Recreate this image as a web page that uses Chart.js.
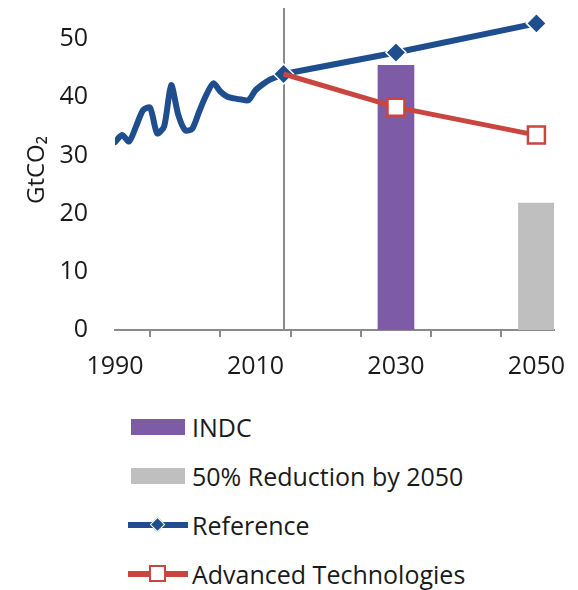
<!DOCTYPE html>
<html><head><meta charset="utf-8">
<script src="https://cdn.jsdelivr.net/npm/chart.js@4/dist/chart.umd.min.js"></script>
<style>
html,body{margin:0;padding:0;background:#fff;}
#wrap{position:relative;width:578px;height:590px;overflow:hidden;}
#c{position:absolute;left:0;top:0;}
#legend{position:absolute;left:128px;top:402px;font-family:"Open Sans",sans-serif;font-size:25px;color:#1a1a1a;}
.row{display:flex;align-items:center;height:49px;white-space:nowrap;}
.sym{width:64px;height:24px;position:relative;flex:none;}
.bar{position:absolute;left:3px;top:4px;width:54px;height:16px;}
.ln{position:absolute;left:0;top:9px;width:60px;height:6px;}
.dia{position:absolute;left:24px;top:6px;width:9px;height:9px;transform:rotate(45deg);border:1.5px solid #fff;}
.sq{position:absolute;left:21px;top:3px;width:13px;height:13px;background:#fff;border:2.5px solid;}
</style>
</head><body>
<div id="wrap">
<canvas id="c" width="578" height="395" style="width:578px;height:395px"></canvas>
<div id="legend"></div>
</div>
<script>
const histYears  = [1990,1991,1992,1993,1994,1995,1996,1997,1998,1999,2000,2001,2002,2003,2004,2005,2006,2007,2008,2009,2010,2011,2012,2013,2014];
const histValues = [32.3,33.5,32.4,35.0,37.8,38.2,33.8,35.0,42.1,37.0,34.3,34.6,37.6,40.4,42.4,41.0,40.1,39.8,39.6,39.5,41.2,42.2,43.0,43.5,44.0];
const projYears = [2014,2030,2050];
const referenceValues = [44.0,47.7,52.7];
const advancedValues  = [44.0,38.3,33.5];
const indcYears = [2030];
const indcValues = [45.5];
const reductionYears = [2050];
const reductionValues = [21.8];
const xTickYears = [1990,2000,2010,2020,2030,2040,2050];
const xLabelYears = [1990,2010,2030,2050];
const yTickValues = [0,10,20,30,40,50];
const seriesNames = ['INDC','50% Reduction by 2050','Reference','Advanced Technologies'];
const baseYear = 2014;
const yTitle = 'GtCO\u2082';

const BLUE='#1F4E8E', RED='#C9453F', PURPLE='#7D5BA6', GRAY='#BFBFBF', AXIS='#8A8A8A', TXT='#1a1a1a';
const zip=(xs,ys)=>xs.map((x,i)=>({x:x,y:ys[i]}));

const vline = {
  id:'vline',
  beforeDatasetsDraw(chart){
    const {ctx, chartArea, scales} = chart;
    const x = Math.round(scales.x.getPixelForValue(baseYear));
    ctx.save();
    ctx.strokeStyle=AXIS; ctx.lineWidth=2;
    ctx.beginPath(); ctx.moveTo(x, chartArea.top-2); ctx.lineTo(x, chartArea.bottom); ctx.stroke();
    ctx.restore();
  }
};

const chart = new Chart(document.getElementById('c'), {
  type:'line',
  data:{datasets:[
    {type:'bar', label:seriesNames[0], data:zip(indcYears,indcValues), backgroundColor:PURPLE, barThickness:36, grouped:false, order:5, legendKind:'bar'},
    {type:'bar', label:seriesNames[1], data:zip(reductionYears,reductionValues), backgroundColor:GRAY, barThickness:36, grouped:false, order:5, legendKind:'bar'},
    {label:'hist', data:zip(histYears,histValues), borderColor:BLUE, borderWidth:6, tension:0.25, pointRadius:0, borderCapStyle:'round', borderJoinStyle:'round', order:3, legendKind:null},
    {label:seriesNames[2], data:zip(projYears,referenceValues), borderColor:BLUE, borderWidth:6, tension:0, pointStyle:'rectRot', pointRadius:10, pointBackgroundColor:BLUE, pointBorderColor:'#fff', pointBorderWidth:1.5, order:2, legendKind:'diamond'},
    {label:seriesNames[3], data:zip(projYears,advancedValues), borderColor:RED, borderWidth:5, tension:0, pointStyle:'rect', pointRadius:[0,12,12], pointBackgroundColor:'#fff', pointBorderColor:RED, pointBorderWidth:2.5, order:1, legendKind:'square'}
  ]},
  options:{
    responsive:false, animation:false, devicePixelRatio:1,
    layout:{autoPadding:false, padding:{left:23,right:24,top:10,bottom:0}},
    plugins:{legend:{display:false}, tooltip:{enabled:false}},
    scales:{
      x:{type:'linear', min:1990, max:2052.5, offset:false,
        afterBuildTicks(s){ s.ticks = xTickYears.map(v=>({value:v})); },
        afterFit(s){ s.height = 65; s.paddingLeft = 0; s.paddingRight = 0; },
        border:{display:true,color:AXIS,width:2},
        grid:{display:true, drawOnChartArea:false, drawTicks:true, tickLength:7, color:AXIS, lineWidth:2},
        ticks:{autoSkip:false, maxRotation:0, padding:15, color:TXT, font:{family:'Open Sans', size:25},
          callback:(v)=> xLabelYears.includes(v) ? String(v) : ''}
      },
      y:{min:0, max:55,
        afterBuildTicks(s){ s.ticks = yTickValues.map(v=>({value:v})); },
        afterFit(s){ s.width = 92; s.paddingTop = 0; s.paddingBottom = 0; },
        border:{display:false},
        grid:{display:false, drawTicks:false},
        ticks:{padding:27, color:TXT, font:{family:'Open Sans', size:25}},
        title:{display:true, text:yTitle, color:TXT, font:{family:'Open Sans', size:24}, padding:0}
      }
    }
  },
  plugins:[vline]
});

// HTML legend built from the chart's datasets
const lg = document.getElementById('legend');
chart.data.datasets.filter(d=>d.legendKind).forEach(d=>{
  const row=document.createElement('div'); row.className='row';
  const sym=document.createElement('div'); sym.className='sym';
  if(d.legendKind==='bar'){
    const b=document.createElement('div'); b.className='bar'; b.style.background=d.backgroundColor; sym.appendChild(b);
  } else {
    const l=document.createElement('div'); l.className='ln'; l.style.background=d.borderColor; sym.appendChild(l);
    if(d.legendKind==='diamond'){ const m=document.createElement('div'); m.className='dia'; m.style.background=d.borderColor; sym.appendChild(m); }
    else { const m=document.createElement('div'); m.className='sq'; m.style.borderColor=d.borderColor; sym.appendChild(m); }
  }
  const t=document.createElement('span'); t.textContent=d.label;
  row.appendChild(sym); row.appendChild(t); lg.appendChild(row);
});
</script>
</body></html>
